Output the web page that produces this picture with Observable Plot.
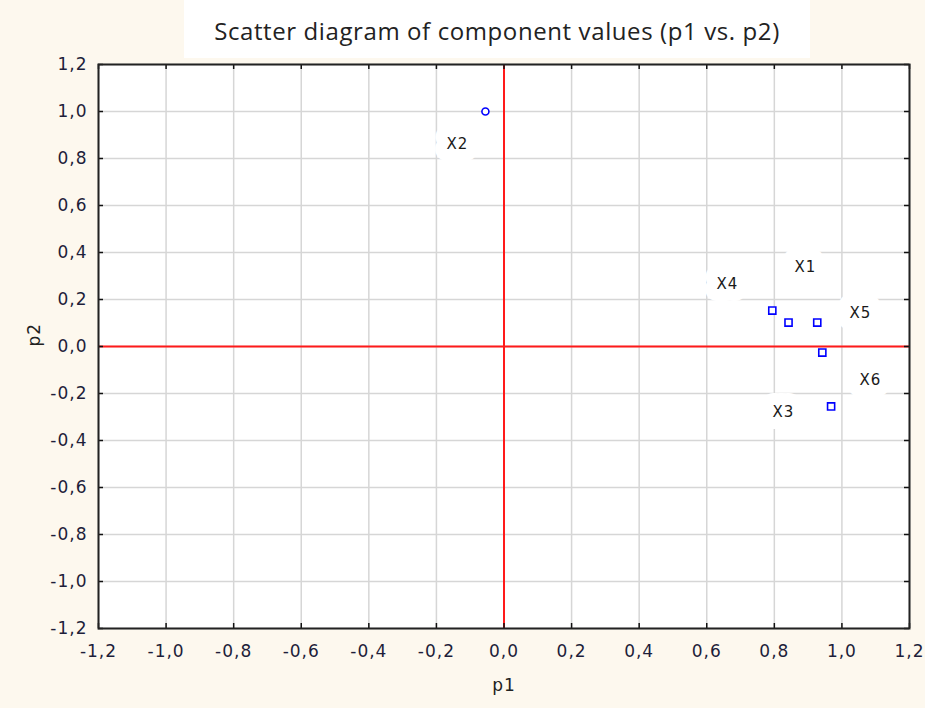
<!DOCTYPE html>
<html><head><meta charset="utf-8">
<script src="https://cdn.jsdelivr.net/npm/d3@7"></script>
<script src="https://cdn.jsdelivr.net/npm/@observablehq/plot@0.6"></script>
<style>
body{margin:0;background:#fdf8ee;width:925px;height:708px;overflow:hidden}
#title{height:50px;position:relative}
#title div{position:absolute;left:184px;width:626px;top:0;height:58px;background:#fff;font:24px "Open Sans";letter-spacing:0.6px;text-align:center;line-height:62px;color:#222}
svg{display:block}
</style></head><body>
<div id="title"><div>Scatter diagram of component values (p1 vs. p2)</div></div>
<div id="chart"></div>
<script>
const names = ["X1", "X2", "X3", "X4", "X5", "X6"];
const p1 = [0.842, -0.055, 0.968, 0.794, 0.927, 0.942];
const p2 = [0.102, 1.0, -0.255, 0.153, 0.102, -0.026];
const labelP1 = [0.892, -0.138, 0.827, 0.661, 1.055, 1.084];
const labelP2 = [0.336, 0.86, -0.28, 0.264, 0.14, -0.145];
const tickValues = [-1.2, -1.0, -0.8, -0.6, -0.4, -0.2, 0.0, 0.2, 0.4, 0.6, 0.8, 1.0, 1.2];
const tickLabels = ["-1,2", "-1,0", "-0,8", "-0,6", "-0,4", "-0,2", "0,0", "0,2", "0,4", "0,6", "0,8", "1,0", "1,2"];

const pts = names.map((n, i) => ({name: n, p1: p1[i], p2: p2[i], lx: labelP1[i], ly: labelP2[i]}));
const fmt = v => tickLabels[tickValues.findIndex(t => Math.abs(t - v) < 1e-9)];

const W = 925, H = 658, mT = 14, mB = 80, mL = 98, mR = 16;
const plotW = W - mL - mR, plotH = H - mT - mB, tk = 5;

const chart = Plot.plot({
  width: W, height: H, marginTop: mT, marginBottom: mB, marginLeft: mL, marginRight: mR,
  style: {background: "transparent", fontFamily: "DejaVu Sans", fontSize: "17px", color: "#222", letterSpacing: "1px", overflow: "visible"},
  x: {domain: [-1.2, 1.2], label: null},
  y: {domain: [-1.2, 1.2], label: null},
  marks: [
    Plot.frame({fill: "white"}),
    Plot.gridX(tickValues, {stroke: "#d6d6d6", strokeOpacity: 1, strokeWidth: 1.5}),
    Plot.gridY(tickValues, {stroke: "#d6d6d6", strokeOpacity: 1, strokeWidth: 1.5}),
    Plot.text(pts, {x: "lx", y: "ly", text: "name", fontSize: 15, stroke: "white", strokeWidth: 24, strokeLinejoin: "round", fill: "white"}),
    Plot.ruleX([0], {stroke: "#ff1a1a", strokeWidth: 2}),
    Plot.ruleY([0], {stroke: "#ff1a1a", strokeWidth: 2}),
    // inward ticks
    Plot.gridX(tickValues, {stroke: "#111", strokeOpacity: 1, strokeWidth: 1.5, insetTop: plotH - tk}),
    Plot.gridX(tickValues, {stroke: "#111", strokeOpacity: 1, strokeWidth: 1.5, insetBottom: plotH - tk}),
    Plot.gridY(tickValues, {stroke: "#111", strokeOpacity: 1, strokeWidth: 1.5, insetRight: plotW - tk}),
    Plot.gridY(tickValues, {stroke: "#111", strokeOpacity: 1, strokeWidth: 1.5, insetLeft: plotW - tk}),
    Plot.axisX(tickValues, {tickSize: 0, tickPadding: 16, tickFormat: fmt, label: null, fill: "#1e1e3a", fontSize: 17}),
    Plot.axisY(tickValues, {tickSize: 0, tickPadding: 11, tickFormat: fmt, label: null, fill: "#1e1e3a", fontSize: 17}),
    Plot.text(pts, {x: "lx", y: "ly", text: "name", fontSize: 15, fill: "#1a1a1a"}),
    Plot.dot(pts.filter(d => d.name !== "X2"), {x: "p1", y: "p2", symbol: "square", r: 4, stroke: "#0000ff", strokeWidth: 1.6, fill: "white"}),
    Plot.dot(pts.filter(d => d.name === "X2"), {x: "p1", y: "p2", symbol: "circle", r: 3.5, stroke: "#0000ff", strokeWidth: 1.6, fill: "white"}),
    Plot.frame({stroke: "#222", strokeWidth: 2}),
    Plot.text(["p1"], {frameAnchor: "bottom", dy: 62, fontSize: 17, fill: "#222"}),
    Plot.text(["p2"], {frameAnchor: "left", dx: -64, rotate: -90, fontSize: 17, fill: "#222"})
  ]
});
document.getElementById("chart").appendChild(chart);
</script>
</body></html>
